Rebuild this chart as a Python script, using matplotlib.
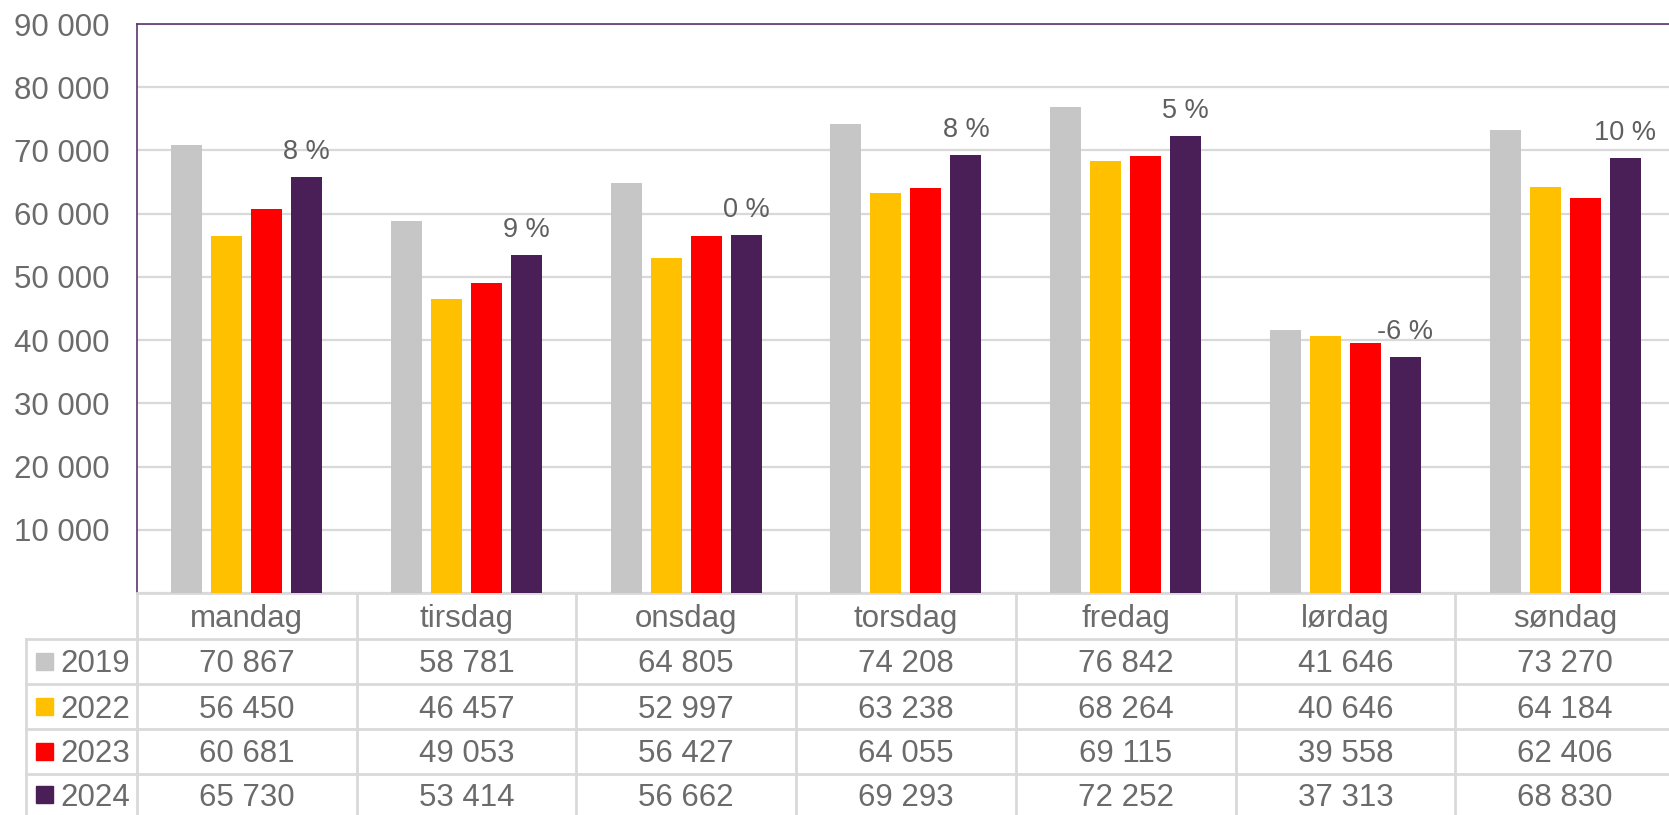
import matplotlib
matplotlib.use("Agg")
import matplotlib.pyplot as plt
import matplotlib.transforms as mtransforms
from matplotlib.patches import Rectangle
from matplotlib.ticker import FuncFormatter, MultipleLocator

plt.rcParams['font.family'] = ['Liberation Sans', 'DejaVu Sans']

days = ["mandag", "tirsdag", "onsdag", "torsdag", "fredag", "lørdag", "søndag"]
years = ["2019", "2022", "2023", "2024"]
v2019 = [70867, 58781, 64805, 74208, 76842, 41646, 73270]
v2022 = [56450, 46457, 52997, 63238, 68264, 40646, 64184]
v2023 = [60681, 49053, 56427, 64055, 69115, 39558, 62406]
v2024 = [65730, 53414, 56662, 69293, 72252, 37313, 68830]
series = [v2019, v2022, v2023, v2024]
colors = ["#c6c6c6", "#ffc000", "#ff0000", "#4a1e57"]

txt = "#6b6b6b"
grid = "#d9d9d9"
W, H = 1669, 815

fig = plt.figure(figsize=(W / 100, H / 100), dpi=100)
# plot area in pixels: left 137, top 24, bottom 593; 7 columns of ~219.7 px
col_w = 219.7
ax = fig.add_axes([137 / W, (H - 593) / H, 7 * col_w / W, (593 - 24) / H])

step, bw = 0.182, 0.141
for j, vals in enumerate(series):
    xs = [i + (j - 1.5) * step for i in range(len(days))]
    ax.bar(xs, vals, width=bw, color=colors[j], zorder=3)

# change 2023 -> 2024
for i in range(len(days)):
    pct = (v2024[i] / v2023[i] - 1) * 100
    ax.annotate(f"{pct:.0f} %", (i + 1.5 * step, v2024[i]), xytext=(0, 13),
                textcoords="offset points", ha="center", va="baseline",
                fontsize=19.5, color="#5f5f5f")

ax.set_xlim(-0.5, len(days) - 0.5)
ax.set_ylim(0, 90000)
ax.yaxis.set_major_locator(MultipleLocator(10000))
ax.yaxis.set_major_formatter(FuncFormatter(
    lambda v, p: "" if v == 0 else f"{v:,.0f}".replace(",", " ")))
ax.tick_params(axis="y", length=0, labelsize=22.5, labelcolor=txt, pad=20)
ax.set_xticks([])
ax.grid(axis="y", color=grid, lw=1.6, zorder=0)
ax.set_axisbelow(True)
for s in ["top", "left"]:
    ax.spines[s].set_color("#5c3470")
    ax.spines[s].set_linewidth(1.2)
ax.spines["right"].set_visible(False)
ax.spines["bottom"].set_color(grid)
ax.spines["bottom"].set_linewidth(2)

# data table under the plot
tr = mtransforms.blended_transform_factory(ax.transData, fig.transFigure)
fy = lambda px: (H - px) / H
fx = lambda px: px / W
row_edges = [593, 639, 684, 729, 774, 815]

for k in range(len(days) + 1):
    ax.plot([k - 0.5, k - 0.5], [fy(593), fy(815)], transform=tr, color=grid,
            lw=2, clip_on=False)
for y in row_edges[1:5]:
    fig.add_artist(plt.Line2D([fx(26), 1.01], [fy(y), fy(y)], color=grid, lw=2))
fig.add_artist(plt.Line2D([fx(26), fx(26)], [fy(639), fy(815)], color=grid, lw=2))

base = lambda r: (row_edges[r] + row_edges[r + 1]) / 2 + 11
for i, d in enumerate(days):
    ax.text(i, fy(base(0)), d, transform=tr, ha="center", va="baseline",
            fontsize=22.5, color=txt)
for r, (yr, vals) in enumerate(zip(years, series), start=1):
    yc = (row_edges[r] + row_edges[r + 1]) / 2
    fig.add_artist(Rectangle((fx(36), fy(yc + 8.5)), 17 / W, 17 / H,
                             color=colors[r - 1], transform=fig.transFigure))
    fig.text(fx(60), fy(base(r)), yr, ha="left", va="baseline",
             fontsize=22.5, color=txt)
    for i, v in enumerate(vals):
        ax.text(i, fy(base(r)), f"{v:,}".replace(",", " "), transform=tr,
                ha="center", va="baseline", fontsize=22.5, color=txt)

fig.savefig("out.png", dpi=100)
